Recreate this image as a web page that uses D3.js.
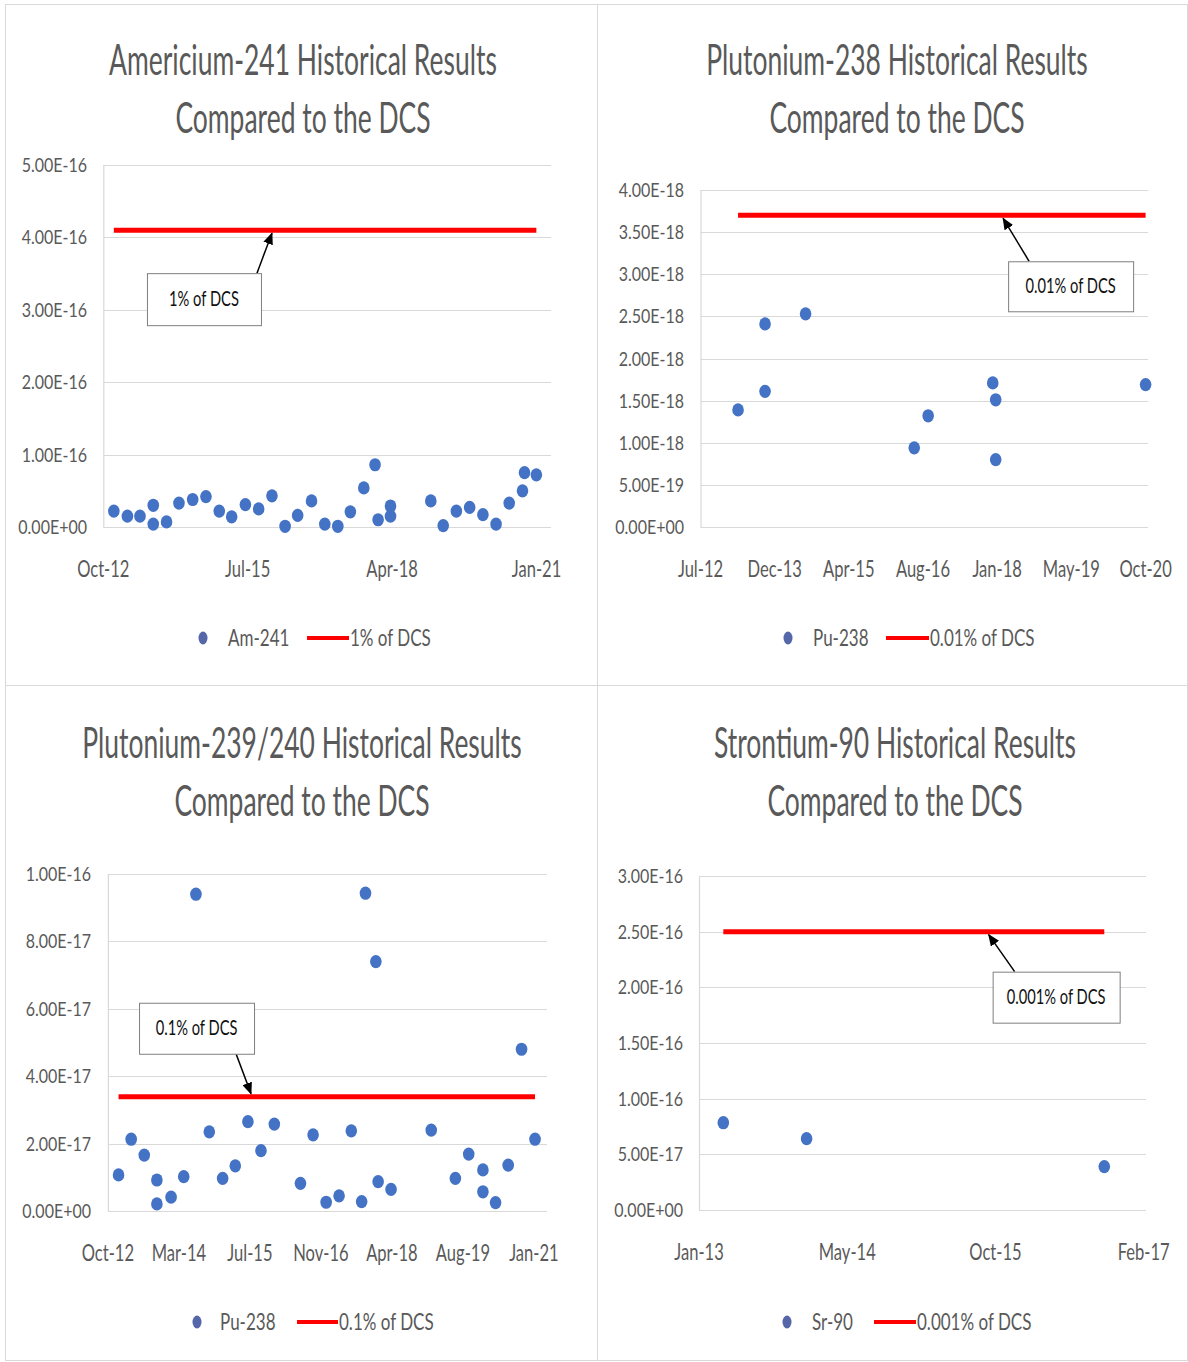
<!DOCTYPE html>
<html>
<head>
<meta charset="utf-8">
<script src="https://cdn.jsdelivr.net/npm/d3@7"></script>
<style>
  html, body { margin: 0; padding: 0; background: #fff; }
  svg { display: block; font-family: Lato, 'Open Sans', sans-serif; }
</style>
</head>
<body>
<svg id="chart" width="1188" height="1362"></svg>
<script>
'use strict';

// ---- data ----
// Americium-241
const amDates = ['2013-01-01', '2013-04-05', '2013-07-01', '2013-10-01', '2013-10-01',
  '2014-01-01', '2014-03-28', '2014-07-01', '2014-10-01', '2015-01-01', '2015-03-28',
  '2015-07-01', '2015-10-01', '2016-01-01', '2016-04-01', '2016-06-27', '2016-10-01',
  '2017-01-01', '2017-04-01', '2017-06-27', '2017-09-28', '2017-12-15', '2018-01-05',
  '2018-04-01', '2018-04-01', '2019-01-05', '2019-04-01', '2019-07-01', '2019-10-01',
  '2020-01-01', '2020-04-01', '2020-07-01', '2020-10-01', '2020-10-15', '2021-01-05'];
const amValues = [0.22e-16, 0.15e-16, 0.15e-16, 0.30e-16, 0.04e-16,
  0.07e-16, 0.33e-16, 0.38e-16, 0.42e-16, 0.22e-16, 0.14e-16,
  0.31e-16, 0.25e-16, 0.43e-16, 0.01e-16, 0.16e-16, 0.36e-16,
  0.04e-16, 0.01e-16, 0.21e-16, 0.54e-16, 0.86e-16, 0.10e-16,
  0.29e-16, 0.15e-16, 0.36e-16, 0.02e-16, 0.22e-16, 0.27e-16,
  0.17e-16, 0.04e-16, 0.33e-16, 0.50e-16, 0.75e-16, 0.72e-16];
const amDcs = 4.1e-16;
const amXTicks = ['2012-10-20', '2015-07-17', '2018-04-12', '2021-01-06'];
const amYTicks = [0, 1e-16, 2e-16, 3e-16, 4e-16, 5e-16];

// Plutonium-238
const pu238Dates = ['2013-04-01', '2013-09-30', '2013-09-30', '2014-06-30', '2016-07-01',
  '2016-10-03', '2017-12-12', '2018-01-01', '2018-01-01', '2020-10-07'];
const pu238Values = [1.39e-18, 2.41e-18, 1.61e-18, 2.53e-18, 0.94e-18,
  1.32e-18, 1.71e-18, 1.51e-18, 0.80e-18, 1.69e-18];
const pu238Dcs = 3.7e-18;
const pu238XTicks = ['2012-07-22', '2013-12-04', '2015-04-17', '2016-08-29',
  '2018-01-11', '2019-05-26', '2020-10-07'];
const pu238YTicks = [0, 0.5e-18, 1e-18, 1.5e-18, 2e-18, 2.5e-18, 3e-18, 3.5e-18, 4e-18];

// Plutonium-239/240
const pu239Dates = ['2013-01-03', '2013-04-02', '2013-07-03', '2013-09-30', '2013-09-30',
  '2014-01-08', '2014-04-07', '2014-07-02', '2014-10-04', '2015-01-06', '2015-04-05',
  '2015-07-03', '2015-10-03', '2016-01-05', '2016-07-07', '2016-10-04', '2017-01-04',
  '2017-04-05', '2017-06-30', '2017-09-11', '2017-10-08', '2017-12-20', '2018-01-05',
  '2018-04-06', '2019-01-14', '2019-07-03', '2019-10-05', '2020-01-13', '2020-01-13',
  '2020-04-11', '2020-07-09', '2020-10-11', '2021-01-14'];
const pu239Values = [1.07e-17, 2.13e-17, 1.66e-17, 0.92e-17, 0.21e-17,
  0.41e-17, 1.02e-17, 9.40e-17, 2.35e-17, 0.97e-17, 1.34e-17,
  2.65e-17, 1.79e-17, 2.58e-17, 0.82e-17, 2.26e-17, 0.26e-17,
  0.45e-17, 2.38e-17, 0.28e-17, 9.43e-17, 7.40e-17, 0.87e-17,
  0.64e-17, 2.40e-17, 0.97e-17, 1.69e-17, 1.22e-17, 0.57e-17,
  0.25e-17, 1.36e-17, 4.80e-17, 2.13e-17];
const pu239Dcs = 3.39e-17;
const pu239XTicks = ['2012-10-20', '2014-03-04', '2015-07-17', '2016-11-28',
  '2018-04-12', '2019-08-25', '2021-01-06'];
const pu239YTicks = [0, 2e-17, 4e-17, 6e-17, 8e-17, 1e-16];

// Strontium-90
const srDates = ['2013-04-02', '2014-01-08', '2016-10-08'];
const srValues = [7.84e-17, 6.41e-17, 3.9e-17];
const srDcs = 2.5e-16;
const srXTicks = ['2013-01-10', '2014-05-25', '2015-10-07', '2017-02-18'];
const srYTicks = [0, 0.5e-16, 1e-16, 1.5e-16, 2e-16, 2.5e-16, 3e-16];

// ---- layout ----
const panels = [
  {
    title: ['Americium-241 Historical Results', 'Compared to the DCS'],
    dates: amDates, values: amValues, dcs: amDcs, xTicks: amXTicks, yTicks: amYTicks,
    series: 'Am-241', lineName: '1% of DCS',
    frame: [5, 4, 597, 685], xr: [103.3, 536.5], gridRight: 551, yr: [527, 165],
    yLabelX: 87, titleX: 303, titleY: 75,
    legend: { y: 638, dot: 203, label: 228, l1: 307, l2: 349 },
    note: { date: '2016-01-01', tail: [-15, 43], box: [-125, 43, 114, 52] },
  },
  {
    title: ['Plutonium-238 Historical Results', 'Compared to the DCS'],
    dates: pu238Dates, values: pu238Values, dcs: pu238Dcs, xTicks: pu238XTicks, yTicks: pu238YTicks,
    series: 'Pu-238', lineName: '0.01% of DCS',
    frame: [597, 4, 1187, 685], xr: [700.5, 1145.6], gridRight: 1148, yr: [527, 190],
    yLabelX: 684, titleX: 897, titleY: 75,
    legend: { y: 638, dot: 788, label: 813, l1: 886, l2: 929 },
    note: { date: '2018-02-20', tail: [26, 46], box: [5, 46, 125, 50] },
  },
  {
    title: ['Plutonium-239/240 Historical Results', 'Compared to the DCS'],
    dates: pu239Dates, values: pu239Values, dcs: pu239Dcs, xTicks: pu239XTicks, yTicks: pu239YTicks,
    series: 'Pu-238', lineName: '0.1% of DCS',
    frame: [5, 685, 597, 1360], xr: [107.9, 533.9], gridRight: 547, yr: [1211, 874],
    yLabelX: 91, titleX: 302, titleY: 758,
    legend: { y: 1322, dot: 197, label: 220, l1: 297, l2: 338 },
    note: { date: '2015-07-25', tail: [-15, -43], box: [-112, -94, 115, 51] },
  },
  {
    title: ['Strontium-90 Historical Results', 'Compared to the DCS'],
    dates: srDates, values: srValues, dcs: srDcs, xTicks: srXTicks, yTicks: srYTicks,
    series: 'Sr-90', lineName: '0.001% of DCS',
    frame: [597, 685, 1187, 1360], xr: [699, 1143.7], gridRight: 1146, yr: [1210, 876],
    yLabelX: 683, titleX: 895, titleY: 758,
    legend: { y: 1322, dot: 787, label: 812, l1: 874, l2: 916 },
    note: { date: '2015-09-14', tail: [26, 40], box: [4, 40, 127, 51] },
  },
];

const parse = d3.timeParse('%Y-%m-%d');
const fmtDate = d3.timeFormat('%b-%y');
const fmtE = (v) => {
  if (v === 0) return '0.00E+00';
  const [m, e] = d3.format('.2e')(v).split('e');
  const n = +e;
  return m + 'E' + (n < 0 ? '-' : '+') + String(Math.abs(n)).padStart(2, '0');
};

const BLUE = '#4472c4';
const RED = '#ff0000';
const GRAY = '#595959';
const GRID = '#d9d9d9';

const svg = d3.select('#chart');

svg.append('defs').append('marker')
  .attr('id', 'arrow')
  .attr('markerUnits', 'userSpaceOnUse')
  .attr('viewBox', '0 0 12 10')
  .attr('refX', 11)
  .attr('refY', 5)
  .attr('markerWidth', 12)
  .attr('markerHeight', 10)
  .attr('orient', 'auto')
  .append('path')
  .attr('d', 'M0,0 L12,5 L0,10 z')
  .attr('fill', '#000');

// text squeezed horizontally, like the narrow original font
const label = (g, x, y, s, size, sx, anchor, color) =>
  g.append('text')
    .attr('transform', `translate(${x},${y}) scale(${sx},1)`)
    .attr('text-anchor', anchor || 'middle')
    .attr('fill', color || GRAY)
    .style('font-size', size + 'px')
    .text(s);

panels.forEach((p) => {
  const g = svg.append('g');
  const [fx0, fy0, fx1, fy1] = p.frame;

  g.append('rect')
    .attr('x', fx0 + 0.5).attr('y', fy0 + 0.5)
    .attr('width', fx1 - fx0).attr('height', fy1 - fy0)
    .attr('fill', '#fff').attr('stroke', GRID);

  const x = d3.scaleTime()
    .domain([parse(p.xTicks[0]), parse(p.xTicks[p.xTicks.length - 1])])
    .range(p.xr);
  const y = d3.scaleLinear()
    .domain([0, d3.max(p.yTicks)])
    .range(p.yr);

  // title
  label(g, p.titleX, p.titleY, p.title[0], 42, 0.63);
  label(g, p.titleX, p.titleY + 58, p.title[1], 42, 0.63);

  // gridlines + y labels
  g.selectAll('.grid').data(p.yTicks).enter().append('line')
    .attr('x1', p.xr[0]).attr('x2', p.gridRight)
    .attr('y1', (d) => Math.round(y(d)) + 0.5).attr('y2', (d) => Math.round(y(d)) + 0.5)
    .attr('stroke', GRID).attr('stroke-width', 1.2);
  g.append('line')
    .attr('x1', p.xr[0] + 0.5).attr('x2', p.xr[0] + 0.5)
    .attr('y1', p.yr[1]).attr('y2', p.yr[0])
    .attr('stroke', GRID).attr('stroke-width', 1.2);
  p.yTicks.forEach((t) => label(g, p.yLabelX, y(t) + 7, fmtE(t), 20, 0.8, 'end'));

  // x labels
  p.xTicks.forEach((t) => label(g, x(parse(t)), p.yr[0] + 50, fmtDate(parse(t)), 23, 0.72));

  // DCS fraction line
  const first = parse(p.dates[0]);
  const last = parse(p.dates[p.dates.length - 1]);
  g.append('path')
    .datum([first, last])
    .attr('d', d3.line().x((d) => x(d)).y(() => y(p.dcs)))
    .attr('stroke', RED).attr('stroke-width', 5).attr('fill', 'none');

  // points
  g.selectAll('.pt').data(p.dates.map((d, i) => [parse(d), p.values[i]])).enter()
    .append('ellipse')
    .attr('cx', (d) => x(d[0])).attr('cy', (d) => y(d[1]))
    .attr('rx', 5.8).attr('ry', 6.6)
    .attr('fill', BLUE);

  // callout
  const tx = x(parse(p.note.date));
  const ty = y(p.dcs);
  const [bx, by, bw, bh] = p.note.box;
  g.append('line')
    .attr('x1', tx + p.note.tail[0]).attr('y1', ty + p.note.tail[1])
    .attr('x2', tx).attr('y2', ty + (p.note.tail[1] > 0 ? 3 : -3))
    .attr('stroke', '#000').attr('stroke-width', 1.5)
    .attr('marker-end', 'url(#arrow)');
  g.append('rect')
    .attr('x', tx + bx + 0.5).attr('y', ty + by + 0.5)
    .attr('width', bw).attr('height', bh)
    .attr('fill', '#fff').attr('stroke', '#7f7f7f');
  label(g, tx + bx + bw / 2, ty + by + bh / 2 + 7, p.lineName, 21, 0.7, 'middle', '#111');

  // legend
  const L = p.legend;
  g.append('ellipse')
    .attr('cx', L.dot).attr('cy', L.y)
    .attr('rx', 4.5).attr('ry', 6.5).attr('fill', '#5567a8');
  label(g, L.label, L.y + 8, p.series, 23, 0.74, 'start');
  g.append('line')
    .attr('x1', L.l1).attr('x2', L.l2).attr('y1', L.y).attr('y2', L.y)
    .attr('stroke', RED).attr('stroke-width', 4);
  label(g, L.l2 + 1, L.y + 8, p.lineName, 23, 0.74, 'start');
});
</script>
</body>
</html>
